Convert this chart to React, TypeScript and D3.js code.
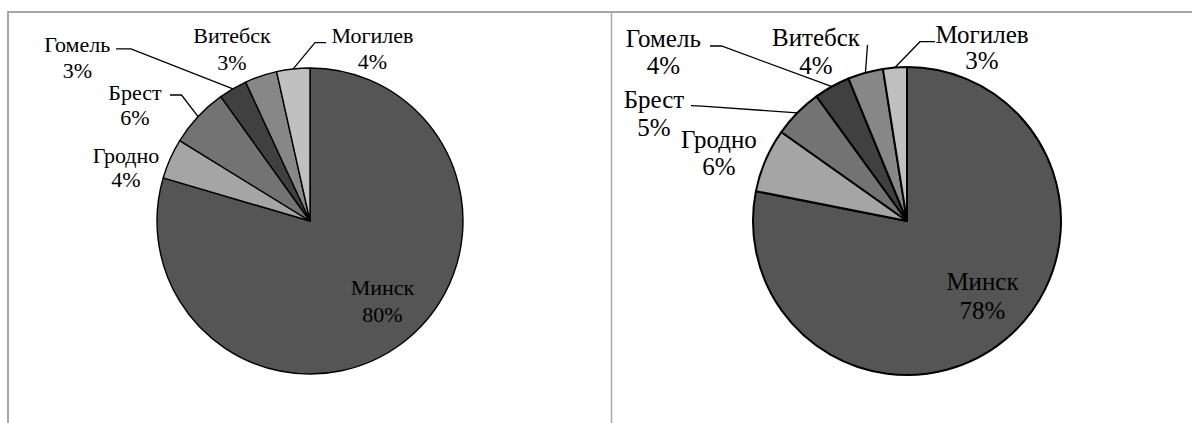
import React from "react";
import * as d3 from "d3";

// ---- data ----
const regions = ["Минск", "Гродно", "Брест", "Гомель", "Витебск", "Могилев"];
const valuesLeft = [79.5, 4.25, 6.3, 3.0, 3.4, 3.5];
const valuesRight = [78.1, 6.7, 5.2, 3.8, 3.7, 2.5];
const pctLeft = ["80%", "4%", "6%", "3%", "3%", "4%"];
const pctRight = ["78%", "6%", "5%", "4%", "4%", "3%"];
const sliceColors = ["#555555", "#a5a5a5", "#737373", "#404040", "#878787", "#c0c0c0"];

// ---- layout ----
const W = 1192;
const H = 423;
const FONT = "Liberation Serif, DejaVu Serif, serif";

type LabelPos = { x: number; y1: number; y2: number; fs: number };
type Leader = { i: number; pts: [number, number][] };
type ChartLayout = {
  cx: number;
  cy: number;
  r: number;
  stroke: number;
  labels: LabelPos[];
  leaders: Leader[];
  values: number[];
  pcts: string[];
};

const charts: ChartLayout[] = [
  {
    cx: 310,
    cy: 221,
    r: 153,
    stroke: 1.4,
    values: valuesLeft,
    pcts: pctLeft,
    labels: [
      { x: 382.5, y1: 294.7, y2: 322, fs: 22 },
      { x: 126, y1: 163.3, y2: 186.7, fs: 22 },
      { x: 135, y1: 100, y2: 125, fs: 22 },
      { x: 77.3, y1: 52.3, y2: 77.7, fs: 22 },
      { x: 232, y1: 43.3, y2: 70, fs: 22 },
      { x: 372.5, y1: 43.3, y2: 69, fs: 22 },
    ],
    leaders: [
      { i: 3, pts: [[116, 48.8], [131, 48.8]] },
      { i: 2, pts: [[170, 95], [181.5, 95]] },
      { i: 5, pts: [[326, 42.6], [315, 42.6]] },
    ],
  },
  {
    cx: 907,
    cy: 221,
    r: 154,
    stroke: 2,
    values: valuesRight,
    pcts: pctRight,
    labels: [
      { x: 982.5, y1: 289.7, y2: 318.7, fs: 25 },
      { x: 719, y1: 148.3, y2: 175, fs: 25 },
      { x: 654, y1: 108.3, y2: 135.7, fs: 25 },
      { x: 663.3, y1: 46.7, y2: 74.3, fs: 25 },
      { x: 816, y1: 45.7, y2: 74.3, fs: 25 },
      { x: 982, y1: 43.3, y2: 69, fs: 25 },
    ],
    leaders: [
      { i: 3, pts: [[710, 46], [721.5, 46]] },
      { i: 2, pts: [[691, 105.7], [702, 106.2]] },
      { i: 4, pts: [[867.5, 45]] },
      { i: 5, pts: [[935, 41.7], [920, 41.7]] },
    ],
  },
];

function PieChart({ c }: { c: ChartLayout }) {
  const pie = d3.pie<number>().sort(null).value((d) => d);
  const arcs = pie(c.values);
  const arc = d3.arc<d3.PieArcDatum<number>>().innerRadius(0).outerRadius(c.r);
  const edge = d3.arc<d3.PieArcDatum<number>>().innerRadius(c.r).outerRadius(c.r);
  const line = d3.line();
  return (
    <g>
      <g transform={`translate(${c.cx},${c.cy})`}>
        {arcs.map((a, i) => (
          <path
            key={i}
            d={arc(a) || ""}
            fill={sliceColors[i]}
            stroke="#000"
            strokeWidth={c.stroke}
            strokeLinejoin="round"
          />
        ))}
      </g>
      {c.leaders.map((l, k) => {
        const [ex, ey] = edge.centroid(arcs[l.i]);
        const pts: [number, number][] = [...l.pts, [c.cx + ex, c.cy + ey]];
        return (
          <path key={k} d={line(pts) || ""} fill="none" stroke="#000" strokeWidth={1.3} />
        );
      })}
      {c.labels.map((p, i) => (
        <text
          key={i}
          textAnchor="middle"
          style={{ fontFamily: FONT, fontSize: p.fs }}
          fill="#000"
        >
          <tspan x={p.x} y={p.y1}>{regions[i]}</tspan>
          <tspan x={p.x} y={p.y2}>{c.pcts[i]}</tspan>
        </text>
      ))}
    </g>
  );
}

export default function App() {
  return (
    <svg
      width={W}
      height={H}
      style={{ position: "absolute", left: 0, top: 0, background: "#fff" }}
    >
      <rect x={0} y={0} width={W} height={H} fill="#fff" />
      <line x1={7} x2={W} y1={12} y2={12} stroke="#a6a6a6" strokeWidth={2} />
      <line x1={8} x2={8} y1={11} y2={H} stroke="#a6a6a6" strokeWidth={2} />
      <line x1={611.5} x2={611.5} y1={11} y2={H} stroke="#a6a6a6" strokeWidth={1.5} />
      {charts.map((c, i) => (
        <PieChart key={i} c={c} />
      ))}
    </svg>
  );
}
